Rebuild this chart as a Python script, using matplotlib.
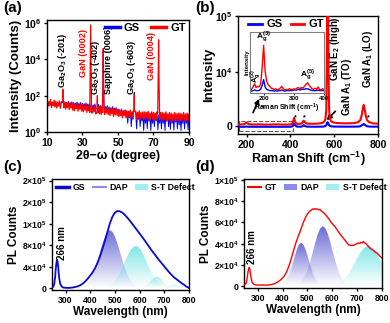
import numpy as np
import matplotlib
matplotlib.use('Agg')
import matplotlib.pyplot as plt
from matplotlib.patches import Rectangle, Patch
from matplotlib.lines import Line2D
from matplotlib.colors import to_rgb
import matplotlib.transforms as mtransforms

plt.rcParams['font.family'] = ['Liberation Sans', 'DejaVu Sans']
plt.rcParams['font.weight'] = 'bold'
plt.rcParams['axes.labelweight'] = 'bold'
plt.rcParams['mathtext.default'] = 'regular'
plt.rcParams['axes.linewidth'] = 1.0
plt.rcParams['xtick.major.width'] = 1.0
plt.rcParams['ytick.major.width'] = 1.0
plt.rcParams['xtick.major.size'] = 2.5
plt.rcParams['ytick.major.size'] = 2.5

BLUE = '#0000ff'
RED = '#ff0000'

# ---------------- (a) XRD ----------------
xrd_2theta = np.arange(10, 90.01, 0.5)
xrd_gt_base = [55, 25, 48, 30, 62, 22, 45, 28, 58, 24,
               50, 21, 44, 27, 52, 20, 42, 26, 48, 22,
               44, 18, 38, 22, 46, 17, 36, 21, 41, 16,
               37, 15, 33, 19, 40, 14, 31, 18, 35, 14,
               32, 13, 28, 16, 34, 12, 27, 15, 30, 12,
               27, 11, 24, 13, 28, 10, 23, 12, 25, 10,
               24, 9, 21, 12, 25, 9, 20, 11, 22, 9,
               20, 8, 18, 10, 21, 7, 17, 9, 19, 8,
               17, 7, 15, 8, 18, 6, 14, 8, 16, 6,
               15, 6, 14, 7, 16, 6, 13, 7, 14, 6,
               14, 5, 12, 6, 15, 5, 12, 6, 13, 5,
               13, 5, 12, 6, 14, 4, 11, 6, 13, 5,
               12, 4.5, 11, 5, 13, 4, 11, 5, 12, 4.5,
               12, 4.5, 11, 5, 13, 4, 10, 5, 12, 4,
               11, 4, 10, 5, 12, 4, 10, 4.5, 11, 4,
               11, 4, 10, 5, 12, 4, 10, 4.5, 11, 4,
               10]
xrd_gs_base = [42, 28, 40, 30, 46, 26, 42, 29, 44, 27,
               41, 26, 39, 28, 43, 25, 40, 27, 42, 25,
               45, 27, 43, 29, 48, 26, 42, 28, 46, 26,
               42, 25, 40, 27, 44, 24, 39, 26, 42, 24,
               38, 22, 36, 24, 40, 21, 35, 23, 37, 20,
               34, 19, 31, 21, 35, 18, 30, 20, 32, 17,
               29, 16, 27, 18, 30, 15, 26, 17, 28, 14,
               24, 13, 22, 14, 25, 12, 21, 13, 22, 11,
               19, 9, 17, 10, 18, 8, 15, 9, 16, 7,
               14, 3, 13, 6, 15, 2, 12, 5, 13, 4,
               12, 1.5, 11, 5, 13, 2, 10, 4, 11, 1.2,
               11, 3, 10, 1.5, 12, 4, 9, 1.2, 10, 3,
               10, 2, 9, 4, 11, 1.3, 9, 3, 10, 1.5,
               10, 3, 9, 1.2, 11, 4, 9, 2, 10, 1.4,
               9, 3, 8, 1.3, 10, 3.5, 8, 1.5, 9, 2.5,
               9, 1.2, 8, 3, 10, 1.5, 8, 3, 9, 1.3,
               8]
xrd_gt_peak_pos = [18.9, 34.6, 38.4, 41.7, 59.2, 72.9]
xrd_gt_peak_h = [230, 8e5, 100, 4e4, 120, 1.2e5]
xrd_gs_peak_pos = [18.9, 38.4, 41.7, 59.2]
xrd_gs_peak_h = [200, 60, 3e4, 150]
peak_dx = [-0.5, -0.25, -0.1, 0, 0.1, 0.25, 0.5]
peak_frac = [0, 0.005, 0.1, 1, 0.1, 0.005, 0]

# ---------------- (b) Raman ----------------
raman_x = [160, 170, 180, 190, 196, 200, 204, 210, 220, 240,
           260, 280, 300, 320, 340, 360, 380, 400, 408, 413,
           417, 421, 428, 440, 452, 457, 461, 466, 475, 500,
           520, 540, 550, 556, 560, 564, 566, 568, 570, 572,
           574, 577, 581, 586, 595, 610, 630, 660, 690, 710,
           720, 726, 731, 735, 739, 744, 750, 760, 775, 790, 800]
raman_gt = [250, 300, 280, 350, 550, 650, 500, 330, 280, 270,
            300, 260, 250, 280, 300, 260, 250, 300, 400, 900,
            1500, 800, 400, 380, 450, 800, 1000, 700, 420, 400,
            420, 500, 650, 900, 1300, 3000, 12000, 150000, 300000, 150000,
            12000, 3000, 1300, 900, 650, 550, 500, 480, 520, 700,
            1100, 2000, 3200, 3900, 3200, 2000, 1100, 700, 500, 450, 450]
raman_gs = [-150, -150, -160, -150, -120, -100, -130, -150, -150, -160,
            -150, -150, -160, -150, -150, -160, -150, -150, -100, 200,
            450, 150, -100, -140, -120, 50, 150, 0, -130, -140,
            -140, -130, -120, -80, 0, 150, 350, 600, 700, 600,
            350, 150, 0, -60, -100, -120, -130, -130, -130, -110,
            -50, 100, 250, 350, 250, 100, -50, -110, -130, -130, -130]
sapphire_marks = [416, 458, 580, 752]

inset_x = np.arange(155, 401, 5)
inset_gt = [0.07, 0.06, 0.10, 0.15, 0.09, 0.11, 0.10, 0.14, 0.40, 0.78,
            0.36, 0.20, 0.14, 0.11, 0.08, 0.07, 0.06, 0.07, 0.05, 0.06,
            0.08, 0.11, 0.07, 0.05, 0.06, 0.05, 0.07, 0.06, 0.05, 0.07,
            0.06, 0.08, 0.09, 0.07, 0.09, 0.08, 0.11, 0.14, 0.17, 0.13,
            0.10, 0.07, 0.06, 0.08, 0.06, 0.10, 0.06, 0.05, 0.07, 0.06]
inset_gs = [0.03, 0.03, 0.04, 0.05, 0.04, 0.04, 0.04, 0.06, 0.12, 0.22,
            0.10, 0.06, 0.05, 0.04, 0.04, 0.04, 0.03, 0.04, 0.03, 0.04,
            0.04, 0.05, 0.04, 0.03, 0.04, 0.04, 0.04, 0.04, 0.04, 0.05,
            0.05, 0.05, 0.06, 0.05, 0.06, 0.06, 0.06, 0.07, 0.07, 0.06,
            0.05, 0.04, 0.04, 0.04, 0.04, 0.05, 0.04, 0.04, 0.04, 0.04]

# ---------------- (c) PL of GS ----------------
gs_wl = [245, 250, 254, 258, 261, 264, 266, 268, 271, 274, 278, 284, 290] + list(range(300, 801, 10))
gs_pl = [2000, 3000, 8000, 22000, 40000, 50000, 52000, 49000, 36000, 20000, 9000, 3500, 1800,
         1200, 1000, 1200, 1800, 2800, 4000, 6000, 9000, 13000, 18000, 24000,
         30000, 38000, 48000, 60000, 74000, 89000, 105000, 121000, 133000, 140500,
         143500, 143000, 140500, 136500, 131500, 126000, 120000, 114000, 108000, 102000,
         96000, 89500, 83000, 76500, 70000, 64000, 58000, 52000, 46500, 41000,
         35500, 30000, 25000, 20500, 17000, 13500, 10000, 7000, 3500, 1000]
gs_dap_wl = np.arange(360, 601, 10)
gs_dap = [1800, 3500, 6400, 10900, 17600, 26900, 38900, 53200, 68600, 83700, 96400, 105000, 108000,
          105000, 96400, 83700, 68600, 53200, 38900, 26900, 17600, 10900, 6400, 3500, 1800]
gs_st1_wl = np.arange(455, 716, 10)
gs_st1 = [1200, 2300, 3950, 6700, 10700, 16300, 23600, 32500, 42600, 53200, 63300, 71600, 77000, 79000,
          77000, 71600, 63300, 53200, 42600, 32500, 23600, 16300, 10700, 6700, 3950, 2300, 1200]
gs_st2_wl = np.arange(610, 731, 10)
gs_st2 = [1230, 2980, 6100, 10700, 16000, 20300, 22000, 20300, 16000, 10700, 6100, 2980, 1230]
gs_st3_wl = np.arange(690, 791, 10)
gs_st3 = [570, 1430, 2960, 4970, 6770, 7500, 6770, 4970, 2960, 1430, 570]

# ---------------- (d) PL of GT ----------------
gt_wl = [245, 250, 254, 258, 261, 264, 266, 268, 271, 274, 278, 284, 290, 300, 310, 320, 325] + list(range(330, 801, 5))
gt_pl = [1200, 1500, 3000, 8000, 13000, 16500, 17500, 16500, 12000, 7000, 3500, 1800, 1200, 1000, 900, 1000, 950,
         900, 1000, 900, 1100, 1300, 1500, 1800, 2100, 2600, 3100, 3800, 4600, 5500, 6500, 7600,
         9000, 10800, 12800, 15500, 18500, 22000, 26000, 30000, 34000, 38000,
         41800, 45000, 48200, 51000, 54500, 57800, 60800, 63500, 66000, 68000,
         69500, 70800, 71500, 72700, 72300, 73000, 72400, 72800, 72000, 72200,
         71000, 70200, 69300, 68000, 66800, 65200, 63800, 62000, 60200, 59000,
         57500, 56500, 54500, 53000, 51000, 49500, 48000, 46500, 45000, 43500,
         42000, 40500, 39000, 38700, 38200, 38600, 38300, 39200, 39600, 40000,
         40600, 40200, 41300, 40800, 42000, 40800, 40000, 38800, 37500, 36000,
         35200, 34500, 33800, 32500, 31800, 31000, 29800, 28500, 27500, 26300]
gt_dap1_wl = np.arange(385, 566, 10)
gt_dap1 = [450, 1170, 2700, 5550, 10200, 16900, 24900, 32800, 38800, 41000,
           38800, 32800, 24900, 16900, 10200, 5550, 2700, 1170, 450]
gt_dap2_wl = np.arange(452, 673, 10)
gt_dap2 = [860, 1780, 3430, 6160, 10350, 16250, 23770, 32460, 41380, 49200, 54580, 56500,
           54580, 49200, 41380, 32460, 23770, 16250, 10350, 6160, 3430, 1780, 860]
gt_st_wl = np.arange(595, 806, 10)
gt_st = [590, 1010, 1670, 2650, 4060, 5980, 8500, 11640, 15350, 19530, 23930,
         28270, 32180, 35290, 37300, 38000, 37300, 35290, 32180, 28270, 23930, 19530]

DAP_C = '#4646cc'
ST_C = '#48dcdc'


def xrd_curve(base, pos, height):
    base = np.asarray(base, float)
    keep = np.ones(len(xrd_2theta), bool)
    for p in pos:
        keep &= np.abs(xrd_2theta - p) > 0.5
    x = list(xrd_2theta[keep])
    y = list(base[keep])
    for p, h in zip(pos, height):
        foot = base[np.argmin(np.abs(xrd_2theta - p))]
        for dx, f in zip(peak_dx, peak_frac):
            x.append(p + dx)
            y.append(max(h * f, foot))
    order = np.argsort(x)
    return np.array(x)[order], np.array(y)[order]


def gradient_fill(ax, x, y, color, a_top=0.8, a_bot=0.0, z=1):
    poly = ax.fill_between(x, 0, y, facecolor='none', edgecolor='none')
    grad = np.zeros((100, 1, 4))
    grad[:, :, :3] = to_rgb(color)
    grad[:, 0, 3] = np.linspace(a_bot, a_top, 100)
    im = ax.imshow(grad, aspect='auto', origin='lower',
                   extent=[min(x), max(x), 0, max(y)], zorder=z)
    im.set_clip_path(poly.get_paths()[0], transform=ax.transData)


fig = plt.figure(figsize=(3.9, 3.23), dpi=100)

# (a)
ax = fig.add_axes([0.1205, 0.5913, 0.364, 0.347])
x, y = xrd_curve(xrd_gs_base, xrd_gs_peak_pos, xrd_gs_peak_h)
ax.plot(x, y, color=BLUE, lw=0.7)
x, y = xrd_curve(xrd_gt_base, xrd_gt_peak_pos, xrd_gt_peak_h)
ax.plot(x, y, color=RED, lw=0.9)
ax.set_yscale('log')
ax.set_xlim(10, 90)
ax.set_ylim(1, 1.5e6)
ax.set_xticks([10, 30, 50, 70, 90])
ax.set_yticks([1, 1e2, 1e4, 1e6])
ax.minorticks_off()
ax.tick_params(labelsize=7.5, pad=1.5)
ax.set_xlabel('2θ−ω (degree)', fontsize=9, labelpad=1.5)
ax.set_ylabel('Intensity (Counts)', fontsize=9.5, labelpad=1)
ax.legend(handles=[Line2D([], [], color=BLUE, lw=2.5, label='GS'),
                   Line2D([], [], color=RED, lw=2.5, label='GT')],
          loc='upper right', ncol=2, frameon=False, fontsize=8,
          handlelength=1.3, handletextpad=0.4, columnspacing=1.0,
          borderaxespad=0.1, borderpad=0.2)
tr = mtransforms.blended_transform_factory(ax.transData, ax.transAxes)
xrd_labels = [(18.9, 0.39, 'Ga$_2$O$_3$ (-201)', 'k'),
              (30.3, 0.49, 'GaN (0002)', RED),
              (37.6, 0.33, 'Ga$_2$O$_3$ (-402)', 'k'),
              (44.6, 0.34, 'Sapphire (0006)', 'k'),
              (57.9, 0.33, 'Ga$_2$O$_3$ (-603)', 'k'),
              (69.0, 0.46, 'GaN (0004)', RED)]
for xx, yy, s, c in xrd_labels:
    ax.text(xx, yy, s, rotation=90, transform=tr, ha='center', va='bottom',
            fontsize=6.6, color=c)

# (b)
ax = fig.add_axes([0.610, 0.585, 0.359, 0.365])
ax.plot(raman_x, raman_gs, color=BLUE, lw=1.5, zorder=3)
ax.plot(raman_x, raman_gt, color=RED, lw=1.5, zorder=4)
ax.set_yscale('symlog', linthresh=1e4, linscale=0.87)
ax.set_xlim(160, 800)
ax.set_ylim(-1500, 1e5)
ax.set_xticks([200, 400, 600, 800])
ax.set_yticks([0, 1e4, 1e5])
ax.set_yticklabels(['0', '10$^4$', '10$^5$'])
ax.minorticks_off()
ax.tick_params(labelsize=7.5, pad=1.5)
ax.set_xlabel('Raman Shift (cm$^{-1}$)', fontsize=9, labelpad=0)
ax.set_ylabel('Intensity', fontsize=9.5, labelpad=0)
ax.legend(handles=[Line2D([], [], color=BLUE, lw=2, label='GS'),
                   Line2D([], [], color=RED, lw=2, label='GT')],
          loc='upper left', bbox_to_anchor=(0.05, 1.0), ncol=2, frameon=False,
          fontsize=8, handlelength=1.2, handletextpad=0.4, columnspacing=0.8,
          borderaxespad=0.1, borderpad=0.2)
for m in sapphire_marks:
    ax.text(m, 900, '*', fontsize=5, ha='left', va='bottom')
ax.add_patch(Rectangle((163, -900), 247, 1900, fill=False, ls='--',
                       lw=0.8, ec='0.35', zorder=2))
tr = mtransforms.blended_transform_factory(ax.transData, ax.transAxes)
ax.text(605, 0.45, 'GaN E$_2$ (high)', rotation=90, transform=tr,
        ha='center', va='bottom', fontsize=7)
ax.text(660, 0.15, 'GaN A$_1$ (TO)', rotation=90, transform=tr,
        ha='center', va='bottom', fontsize=7)
ax.text(756, 0.39, 'GaN A$_1$ (LO)', rotation=90, transform=tr,
        ha='center', va='bottom', fontsize=7)
ax.annotate('', xy=(0.16, 0.32), xytext=(0.10, 0.16), xycoords='axes fraction',
            arrowprops=dict(arrowstyle='-|>', color='k', lw=1.2, mutation_scale=7))
ax.annotate('', xy=(0.62, 0.10), xytext=(0.71, 0.21), xycoords='axes fraction',
            arrowprops=dict(arrowstyle='-|>', color='k', lw=1.2, mutation_scale=7))

# inset of (b)
axi = fig.add_axes([0.641, 0.712, 0.19, 0.189])
axi.plot(inset_x, inset_gs, color=BLUE, lw=1.0)
axi.plot(inset_x, inset_gt, color=RED, lw=1.0)
axi.set_xlim(155, 400)
axi.set_ylim(0, 1)
axi.set_xticks([200, 300, 400])
axi.set_yticks([])
for s in axi.spines.values():
    s.set_color('0.5')
    s.set_linewidth(0.8)
axi.tick_params(labelsize=4.5, pad=1, length=1.5, width=0.6)
axi.set_xlabel('Raman Shift (cm$^{-1}$)', fontsize=5, labelpad=0.5)
axi.set_ylabel('Intensity', fontsize=4.5, labelpad=0.5)
axi.text(200, 0.8, 'A$_g^{(3)}$', fontsize=6, ha='center', va='bottom')
axi.text(174, 0.17, 'A$_g^{(2)}$', fontsize=5.5, ha='center', va='bottom', rotation=90)
axi.text(345, 0.18, 'A$_g^{(5)}$', fontsize=6, ha='center', va='bottom')

# (c)
ax = fig.add_axes([0.1333, 0.102, 0.351, 0.344])
gradient_fill(ax, gs_dap_wl, gs_dap, DAP_C)
gradient_fill(ax, gs_st1_wl, gs_st1, ST_C, a_top=0.7)
gradient_fill(ax, gs_st2_wl, gs_st2, ST_C, a_top=0.5)
gradient_fill(ax, gs_st3_wl, gs_st3, ST_C, a_top=0.4)
ax.plot(gs_wl, gs_pl, color='#0a0ad2', lw=1.3, zorder=5)
ax.set_xlim(245, 800)
ax.set_ylim(-3000, 2.03e5)
ax.set_xticks([300, 400, 500, 600, 700, 800])
ax.set_yticks([0, 4e4, 8e4, 1.2e5, 1.6e5, 2e5])
ax.set_yticklabels(['0', '4×10$^4$', '8×10$^4$', '1×10$^5$', '2×10$^5$', '2×10$^5$'])
ax.tick_params(labelsize=6.2, pad=1.5)
ax.set_xlabel('Wavelength (nm)', fontsize=8.5, labelpad=1)
ax.set_ylabel('PL Counts', fontsize=8.5, labelpad=1)
ax.text(285, 52000, '266 nm', rotation=90, fontsize=7, ha='center', va='bottom')
ax.legend(handles=[Line2D([], [], color='#0a0ad2', lw=2.5, label='GS'),
                   Line2D([], [], color='#8c8cf0', lw=1.5, label='DAP'),
                   Patch(facecolor='#a0f0f0', edgecolor='none', label='S-T Defect')],
          loc='upper left', bbox_to_anchor=(0.0, 1.0), ncol=3, frameon=False,
          fontsize=6.3, handlelength=1.5, handleheight=0.6, handletextpad=0.4,
          columnspacing=0.8, borderaxespad=0.2, borderpad=0.3)

# (d)
ax = fig.add_axes([0.6256, 0.108, 0.354, 0.338])
gradient_fill(ax, gt_dap1_wl, gt_dap1, DAP_C)
gradient_fill(ax, gt_dap2_wl, gt_dap2, DAP_C)
gradient_fill(ax, gt_st_wl, gt_st, ST_C, a_top=0.7)
ax.plot(gt_wl, gt_pl, color=RED, lw=1.0, zorder=5)
ax.set_xlim(245, 800)
ax.set_ylim(-1900, 1.01e5)
ax.set_xticks([300, 400, 500, 600, 700, 800])
ax.set_yticks([0, 2e4, 4e4, 6e4, 8e4, 1e5])
ax.set_yticklabels(['0', '2×10$^4$', '4×10$^4$', '6×10$^4$', '8×10$^4$', '1×10$^5$'])
ax.tick_params(labelsize=6.2, pad=1.5)
ax.set_xlabel('Wavelength (nm)', fontsize=8.5, labelpad=1)
ax.set_ylabel('PL Counts', fontsize=8.5, labelpad=1)
ax.text(278, 20500, '266 nm', rotation=90, fontsize=7, ha='center', va='bottom')
ax.legend(handles=[Line2D([], [], color=RED, lw=1.5, label='GT'),
                   Patch(facecolor='#8c8cf0', edgecolor='none', label='DAP'),
                   Patch(facecolor='#a0f0f0', edgecolor='none', label='S-T Defect')],
          loc='upper left', bbox_to_anchor=(0.0, 1.0), ncol=3, frameon=False,
          fontsize=6.3, handlelength=1.5, handleheight=0.6, handletextpad=0.4,
          columnspacing=0.8, borderaxespad=0.2, borderpad=0.3)

fig.text(3 / 390, 1 - 1 / 323, '(a)', fontsize=11, va='top', ha='left')
fig.text(195 / 390, 1 - 1 / 323, '(b)', fontsize=11, va='top', ha='left')
fig.text(3 / 390, 1 - 160 / 323, '(c)', fontsize=11, va='top', ha='left')
fig.text(195 / 390, 1 - 160 / 323, '(d)', fontsize=11, va='top', ha='left')

fig.savefig('out.png', dpi=100)
